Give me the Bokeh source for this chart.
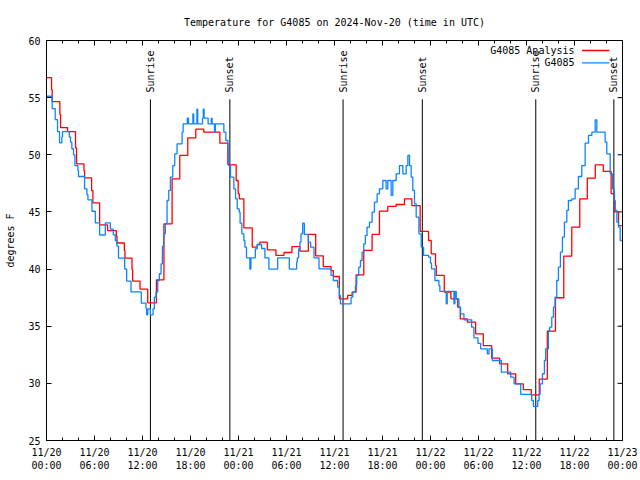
import math
from bokeh.plotting import figure
from bokeh.models import FixedTicker, LinearAxis, Label, BoxAnnotation, ColumnDataSource
from bokeh.core.properties import value
from bokeh.embed import file_html
from bokeh.resources import INLINE

# ---------------- data ----------------
TITLE = "Temperature for G4085 on 2024-Nov-20 (time in UTC)"
Y_LABEL = "degrees F"

# hours since 2024-11-20 00:00 UTC
X_TICKS = [0, 6, 12, 18, 24, 30, 36, 42, 48, 54, 60, 66, 72]
X_MINOR = list(range(0, 73, 2))
X_TICK_LABELS = ["11/20\n00:00", "11/20\n06:00", "11/20\n12:00", "11/20\n18:00",
                 "11/21\n00:00", "11/21\n06:00", "11/21\n12:00", "11/21\n18:00",
                 "11/22\n00:00", "11/22\n06:00", "11/22\n12:00", "11/22\n18:00",
                 "11/23\n00:00"]
Y_TICKS = [25, 30, 35, 40, 45, 50, 55, 60]
X_MIN, X_MAX = 0, 72
Y_MIN, Y_MAX = 25, 60

EVENT_H = [12.99, 22.92, 37.07, 46.98, 61.16, 70.92]
EVENT_NAMES = ["Sunrise", "Sunset", "Sunrise", "Sunset", "Sunrise", "Sunset"]

ANALYSIS_NAME = "G4085 Analysis"
ANALYSIS_H = [0.0, 0.63, 0.71, 1.67, 1.76, 2.63, 3.63, 3.76, 4.68, 4.76,
              5.64, 5.80, 6.64, 7.64, 8.73, 8.81, 9.73, 9.81, 10.69, 10.77,
              11.69, 12.65, 13.74, 14.68, 15.7, 16.66, 17.66, 18.66, 19.66, 21.67,
              22.67, 23.71, 23.96, 24.1, 24.67, 25.72, 26.35, 26.67, 27.6, 28.68,
              29.68, 30.68, 31.68, 32.73, 33.65, 34.6, 35.57, 35.86, 36.61, 37.65,
              38.2, 38.7, 39.66, 40.7, 41.62, 42.66, 43.7, 44.75, 45.67, 46.71,
              47.76, 48.09, 48.63, 48.72, 49.72, 50.55, 51.4, 51.72, 52.6, 53.64,
              54.6, 55.65, 56.65, 57.65, 58.65, 59.6, 60.6, 61.6, 62.6, 63.62,
              64.66, 65.66, 66.66, 67.6, 68.6, 69.6, 70.58, 71.0, 71.5, 71.92]
ANALYSIS_T = [56.75, 55.7, 54.65, 53.54, 52.37, 52.02, 50.6, 49.2, 48.6, 47.98,
              46.87, 45.79, 43.86, 43.36, 42.87, 42.28, 41.61, 40.96, 39.94, 38.95,
              38.25, 37.05, 39.06, 43.96, 47.9, 49.94, 51.48, 52.24, 51.98, 51.02,
              49.12, 47.75, 46.58, 46.15, 43.61, 41.92, 42.15, 42.35, 41.68, 41.19,
              41.45, 41.97, 41.57, 43.03, 41.16, 40.22, 39.87, 39.35, 37.4, 37.69,
              37.98, 39.5, 41.63, 43.03, 45.07, 45.48, 45.65, 46.15, 45.56, 43.29,
              42.5, 41.33, 40.31, 39.44, 37.98, 37.4, 36.67, 35.65, 35.35, 34.33,
              33.3, 32.2, 31.71, 30.83, 29.96, 29.45, 29.0, 30.37, 34.57, 37.49,
              41.13, 43.67, 46.15, 47.96, 49.12, 48.54, 46.6, 45.0, 43.8, 43.8]

OBS_NAME = "G4085"
OBS_H = [0.0, 0.71, 1.09, 1.38, 1.63, 1.92, 2.0, 2.85, 3.0, 3.17,
         3.38, 3.55, 3.93, 4.0, 4.76, 5.05, 5.18, 5.68, 6.1, 6.64,
         7.35, 7.98, 8.35, 8.6, 8.8, 9.0, 9.77, 10.02, 10.56, 11.85,
         12.44, 12.52, 12.65, 12.98, 13.32, 13.48, 13.69, 13.9, 14.11, 14.32,
         14.49, 14.65, 14.86, 15.07, 15.28, 15.49, 15.78, 16.03, 16.32, 16.95,
         17.08, 17.6, 17.75, 18.3, 18.4, 18.8, 18.9, 19.5, 19.6, 19.7,
         20.2, 20.6, 20.7, 21.0, 21.1, 21.75, 22.17, 22.42,
         22.67, 22.79, 23.0, 23.42, 23.63, 23.84, 24.09, 24.2, 24.42, 24.67,
         24.8, 25.0, 25.42, 25.55, 26.1, 26.35, 26.88, 27.3, 27.8, 28.9,
         30.35, 31.27, 31.35, 31.52, 31.68, 31.81, 32.02, 32.23, 32.73, 33.02,
         33.44, 34.06, 35.57, 35.85, 36.4, 36.61, 36.74, 38.07, 38.28, 38.61,
         38.78, 39.03, 39.24, 39.45, 39.66, 39.86, 40.07, 40.37, 40.7, 40.99,
         41.33, 41.62, 42.04, 42.45, 42.66, 43.08, 43.29, 43.71, 44.12, 44.54,
         44.96, 45.17, 45.38, 45.58, 45.79, 46.0, 46.21, 46.55, 46.84, 47.13,
         47.76, 48.0, 48.13, 48.55, 49.05, 49.17, 49.97, 50.09, 50.93, 51.05,
         51.22, 51.55, 51.76, 52.18, 53.14, 53.43, 53.93, 54.27, 55.1, 55.31,
         55.73, 56.86, 58.03, 58.45, 59.28, 60.65, 60.86, 61.4, 61.57, 61.7,
         61.99, 62.24, 62.4, 62.74, 62.9, 63.16, 63.37, 63.57, 63.78, 63.99,
         64.24, 64.49, 64.74, 65.04, 65.24, 65.66, 66.08, 66.49, 66.91, 67.33,
         67.75, 68.17, 68.58, 68.79, 69.83, 70.04, 70.46, 70.75, 70.96, 71.09,
         71.3, 71.5, 71.71, 71.92]
OBS_T = [55.12, 54.04, 53.07, 52.02, 51.05, 51.55, 52.02, 51.55, 51.1, 50.53,
         50.0, 49.06, 48.6, 48.1, 47.02, 46.5, 46.05, 45.06, 44.04, 42.98,
         44.04, 43.5, 43.0, 42.5, 42.0, 40.96, 40.0, 38.95, 38.0, 37.02,
         36.52, 36.0, 36.52, 36.0, 36.52, 37.54, 37.98, 39.0, 39.59, 40.46,
         42.0, 43.08, 43.96, 46.0, 46.88, 48.04, 49.06, 50.08, 50.96, 51.98,
         52.71, 53.2, 52.71, 53.58, 52.71, 54.0, 52.71, 53.2, 54.0, 53.2,
         52.71, 53.2, 52.71, 51.98, 52.71, 52.71, 51.98, 51.25,
         50.38, 49.06, 48.04, 47.02, 46.15, 45.27, 44.98, 44.02, 43.08, 42.5,
         41.92, 40.98, 40.0, 40.98, 41.77, 42.15, 41.8, 40.98, 40.0, 40.98,
         40.0, 40.6, 40.98, 41.77, 42.35, 43.08, 44.02, 43.03, 42.35, 41.92,
         40.98, 40.02, 39.44, 39.0, 38.42, 37.69, 36.96, 37.54, 37.98, 38.56,
         39.44, 40.17, 40.75, 41.48, 42.21, 42.94, 43.67, 44.1, 44.98, 45.85,
         46.58, 47.02, 47.75, 47.02, 47.75, 46.44, 47.75, 48.33, 49.06, 48.33,
         49.06, 49.94, 49.06, 48.04, 46.88, 45.71, 44.54, 43.08, 41.92, 41.19,
         41.04, 40.52, 40.02, 39.0, 38.56, 38.04, 36.96, 38.04, 36.96, 38.04,
         37.4, 36.67, 36.08, 35.56, 34.92, 33.98, 33.5, 33.02, 32.58, 33.02,
         32.0, 30.98, 30.54, 29.96, 29.03, 28.5, 27.98, 28.5, 29.03, 29.96,
         30.84, 32.0, 33.02, 34.63, 34.92, 35.79, 36.67, 37.54, 39.0, 40.17,
         41.48, 42.79, 44.1, 45.13, 46.0, 46.15, 47.02, 48.1, 49.06, 51.02,
         51.69, 51.98, 53.06, 51.98, 51.1, 50.08, 48.33, 47.02, 46.0, 45.13,
         44.1, 43.67, 42.5, 42.5]

# ---------------- style ----------------
FONT = "DejaVu Sans Mono"
FS = "10px"
RED = "#ff0000"
BLUE = "#0a84ff"

p = figure(width=640, height=480, output_backend="svg", toolbar_location=None,
           x_range=(X_MIN, X_MAX), y_range=(Y_MIN, Y_MAX),
           x_axis_type=None, y_axis_type=None,
           min_border_left=46, min_border_right=18,
           min_border_top=40, min_border_bottom=40)
p.xgrid.visible = False
p.ygrid.visible = False
p.outline_line_color = "black"
p.outline_line_width = 1
p.background_fill_color = "white"
p.border_fill_color = "white"

p.title.text = TITLE
p.title.align = "center"
p.title.text_font = FONT
p.title.text_font_size = FS
p.title.text_font_style = "normal"
p.title.text_color = "black"
p.title.standoff = 26


def style_axis(ax):
    ax.axis_line_color = "black"
    ax.major_tick_in = 5
    ax.major_tick_out = 0
    ax.minor_tick_in = 3
    ax.minor_tick_out = 0
    ax.major_tick_line_color = "black"
    ax.minor_tick_line_color = "black"
    ax.major_label_text_font = FONT
    ax.major_label_text_font_size = FS
    ax.major_label_text_color = "black"
    ax.major_label_standoff = 6


bottom = LinearAxis(ticker=FixedTicker(ticks=X_TICKS, minor_ticks=X_MINOR))
bottom.major_label_overrides = {t: lab for t, lab in zip(X_TICKS, X_TICK_LABELS)}
style_axis(bottom)
p.add_layout(bottom, "below")

left = LinearAxis(ticker=FixedTicker(ticks=Y_TICKS, minor_ticks=[]), axis_label=Y_LABEL)
style_axis(left)
left.axis_label_text_font = FONT
left.axis_label_text_font_size = FS
left.axis_label_text_font_style = "normal"
left.axis_label_text_color = "black"
left.axis_label_standoff = 9
p.add_layout(left, "left")

# mirrored inward ticks on top and right edges (clipped half-dashes)
p.scatter(x=X_TICKS, y=[Y_MAX] * len(X_TICKS), marker="dash", size=10,
          angle=math.pi / 2, line_color="black", line_width=1)
p.scatter(x=X_MINOR, y=[Y_MAX] * len(X_MINOR), marker="dash", size=6,
          angle=math.pi / 2, line_color="black", line_width=1)
p.scatter(x=[X_MAX] * len(Y_TICKS), y=Y_TICKS, marker="dash", size=10,
          line_color="black", line_width=1)

# sunrise / sunset markers
ev = ColumnDataSource(dict(x=EVENT_H, name=EVENT_NAMES,
                           y0=[Y_MIN] * len(EVENT_H), y1=[54.85] * len(EVENT_H),
                           ty=[55.45] * len(EVENT_H)))
p.segment(x0="x", y0="y0", x1="x", y1="y1", source=ev, line_color="black", line_width=1)
p.text(x="x", y="ty", text="name", source=ev, angle=math.pi / 2,
       text_align="left", text_baseline="middle",
       text_font=value(FONT), text_font_size=FS, text_color="black")

# series (gnuplot "steps")
p.step(ANALYSIS_H, ANALYSIS_T, mode="after", line_color=RED, line_width=1.3)
p.step(OBS_H, OBS_T, mode="after", line_color=BLUE, line_width=1.3)

# legend (text then sample, gnuplot style)
for i, (name, color) in enumerate([(ANALYSIS_NAME, RED), (OBS_NAME, BLUE)]):
    ys = 390 - 12.3 * i
    p.add_layout(Label(x=528, y=ys, x_units="screen", y_units="screen", text=name,
                       text_align="right", text_baseline="middle",
                       text_font=FONT, text_font_size=FS, text_color="black"))
    p.add_layout(BoxAnnotation(left=535.5, right=563, bottom=ys - 0.65, top=ys + 0.65,
                               left_units="screen", right_units="screen",
                               bottom_units="screen", top_units="screen",
                               fill_color=color, fill_alpha=1, line_color=None))

open("out.html", "w").write(file_html(p, INLINE))
